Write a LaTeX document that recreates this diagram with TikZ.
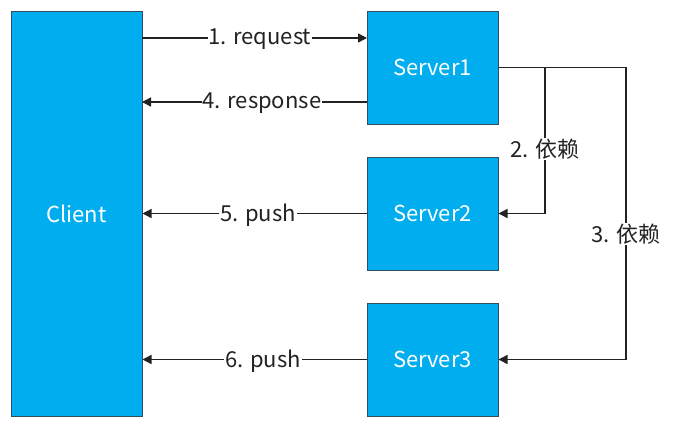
\documentclass[tikz,border=0pt]{standalone}
\usepackage{fontspec}
\setmainfont{Noto Sans CJK SC}
\usetikzlibrary{arrows.meta}
\definecolor{boxblue}{HTML}{00ADEE}
\definecolor{boxedge}{HTML}{2F4F5F}
\definecolor{linecol}{HTML}{222222}
\begin{document}
\begin{tikzpicture}[x=1pt,y=-1pt,
  box/.style={draw=boxedge,line width=1pt,fill=boxblue,text=white,font=\fontsize{22}{26}\selectfont,inner sep=0pt},
  conn/.style={draw=linecol,line width=1.4pt,-{Triangle[length=9pt,width=9pt]}},
  lab/.style={fill=white,inner sep=1pt,font=\fontsize{22}{26}\selectfont,text=linecol,yshift=-1.5pt}]
\useasboundingbox (0,0) rectangle (681,431);
\node[box,minimum width=131,minimum height=405] (client) at (76.5,213.5) {Client};
\node[box,minimum width=131,minimum height=113] (s1) at (432.5,67.5) {Server1};
\node[box,minimum width=131,minimum height=113] (s2) at (432.5,213.5) {Server2};
\node[box,minimum width=131,minimum height=113] (s3) at (432.5,359.5) {Server3};
\coordinate (r1) at (142,38);
\coordinate (r2) at (367,38);
\coordinate (p1) at (142,102);
\coordinate (p2) at (367,102);
\draw[conn] (r1) -- node[lab,pos=0.524]{1. request} (r2);
\draw[conn] (p2) -- node[lab,pos=0.467]{4. response} (p1);
\draw[conn] (s2.west) -- node[lab,pos=0.484]{5. push} (client.east |- s2.west);
\draw[conn] (s3.west) -- node[lab,pos=0.462]{6. push} (client.east |- s3.west);
\coordinate (d2a) at (545,67.5);
\coordinate (d2b) at (545,213.5);
\coordinate (d3a) at (626,67.5);
\coordinate (d3b) at (626,359.5);
\draw[conn] (s1.east) -- (d2a) -- node[lab,pos=0.55]{2. 依赖} (d2b) -- (s2.east);
\draw[conn] (s1.east) -- (d3a) -- node[lab,pos=0.565]{3. 依赖} (d3b) -- (s3.east);
\end{tikzpicture}
\end{document}
